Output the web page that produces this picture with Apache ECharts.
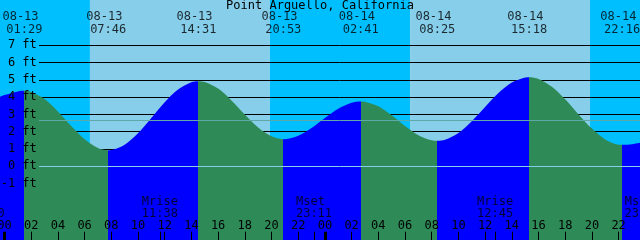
<!DOCTYPE html>
<html><head><meta charset="utf-8">
<script src="https://cdn.jsdelivr.net/npm/echarts@6/dist/echarts.min.js"></script>
<style>html,body{margin:0;padding:0;background:#fff;overflow:hidden}#c{width:640px;height:240px}</style>
</head><body><div id="c"></div>
<script>
// ---------- data (hours counted from 08-13 00:00, heights in ft) ----------
const tideHours = [-0.5, 0, 1, 1.483, 2, 3, 4, 5, 6, 7, 7.767, 8, 9, 10, 11, 12, 13, 14, 14.517,
  15, 16, 17, 18, 19, 20, 20.883, 21, 22, 23, 24, 25, 26, 26.683, 27, 28, 29, 30, 31, 32, 32.417,
  33, 34, 35, 36, 37, 38, 39, 39.3, 40, 41, 42, 43, 44, 45, 46, 46.267, 47, 48];
const tideFeet = [3.96, 4.12, 4.33, 4.36, 4.30, 3.89, 3.17, 2.33, 1.56, 1.06, 0.93, 0.94, 1.25, 1.91, 2.79, 3.70, 4.44, 4.86, 4.92,
  4.87, 4.49, 3.81, 2.99, 2.24, 1.73, 1.57, 1.57, 1.76, 2.21, 2.79, 3.33, 3.68, 3.75, 3.73, 3.47, 2.95, 2.33, 1.80, 1.50, 1.47,
  1.53, 1.93, 2.61, 3.43, 4.23, 4.84, 5.13, 5.15, 5.05, 4.60, 3.87, 3.00, 2.18, 1.55, 1.25, 1.24, 1.28, 1.42];
const extremeHours = [1.483, 7.767, 14.517, 20.883, 26.683, 32.417, 39.3, 46.267];
const extremeDates = ['08-13', '08-13', '08-13', '08-13', '08-14', '08-14', '08-14', '08-14'];
const extremeTimes = ['01:29', '07:46', '14:31', '20:53', '02:41', '08:25', '15:18', '22:16'];
const sunHours = [6.40, 19.88, 30.38, 43.86];          // sunrise, sunset, sunrise, sunset
const moonHours = [-1.333, 11.633, 23.183, 36.75, 47.8];
const moonNames = ['Mset', 'Mrise', 'Mset', 'Mrise', 'Mset'];
const moonTimes = ['22:40', '11:38', '23:11', '12:45', '23:48'];
const hourLabels = [0, 2, 4, 6, 8, 10, 12, 14, 16, 18, 20, 22, 24, 26, 28, 30, 32, 34, 36, 38, 40, 42, 44, 46];
const midnightHours = [0, 24];
const depthLabels = [-1, 0, 1, 2, 3, 4, 5, 6, 7];
const mslFeet = 2.68;
const titleText = 'Point Arguello, California';

// ---------- layout / style ----------
const FONT = '"DejaVu Sans Mono", monospace';
const FS = 12;
const W = 640, H = 240;
const X0 = 4.5, PXH = 13.35, Y0 = 166.3, PXF = 17.3;
const LINE_TOP = 7, LINE_BOTTOM = -1;
const XMIN = -X0 / PXH, XMAX = (W - X0) / PXH;
const YMIN = (Y0 - H) / PXF, YMAX = Y0 / PXF;
const NIGHT = '#00bfff', DAY = '#87ceeb', FLOOD = '#0000ff', EBB = '#2e8b57';
const MSL = '#5fa8a8', DATUM = '#87ceeb';
const rowFt = y => (Y0 - y) / PXF;

const gridMain = { left: 0, right: 0, top: 0, bottom: 0 };
const gridLines = { left: 39, right: 0, top: Y0 - LINE_TOP * PXF, bottom: H - (Y0 - LINE_BOTTOM * PXF) };

const tideData = tideHours.map((h, i) => [h, tideFeet[i]]);

// background bands from sun events
const bandEdges = [XMIN].concat(sunHours, [XMAX]);
const bands = [];
for (let i = 0; i < bandEdges.length - 1; i++) bands.push([bandEdges[i], bandEdges[i + 1], i % 2]);

// flood/ebb pieces by extremes (first extreme is a high => before it rising)
const cuts = [XMIN - 10].concat(extremeHours, [XMAX + 10]);
const pieces = [];
for (let i = 0; i < cuts.length - 1; i++) pieces.push({ gte: cuts[i], lt: cuts[i + 1], color: i % 2 === 0 ? FLOOD : EBB });

const pad2 = n => String(n).padStart(2, '0');
const hourFmt = v => pad2(((Math.round(v) % 24) + 24) % 24);

const thinTicks = hourLabels.filter(h => midnightHours.indexOf(h) < 0).concat(moonHours.filter(h => h > XMIN && h < XMAX));

const textStyle = { fontFamily: FONT, fontSize: FS, color: '#000' };
const noLine = { show: false, onZero: false };

function labelSeries(points, z) {
  return {
    type: 'scatter', xAxisIndex: 0, yAxisIndex: 0, z: z, silent: true, symbolSize: 0, clip: false,
    data: points.map(p => ({ value: [p.h, p.ft], label: { show: true, position: 'inside', formatter: p.text, offset: [p.dx || 0, 0],
      fontFamily: FONT, fontSize: FS, color: '#000' } }))
  };
}

const topPts = [];
extremeHours.forEach((h, i) => {
  topPts.push({ h: h, ft: rowFt(17.3), text: extremeDates[i], dx: -3.8 });
  topPts.push({ h: h, ft: rowFt(29.7), text: extremeTimes[i] });
});
const moonPts = [];
moonHours.forEach((h, i) => {
  moonPts.push({ h: h, ft: rowFt(201.7), text: moonNames[i], dx: moonNames[i] === 'Mset' ? -3.5 : 0 });
  moonPts.push({ h: h, ft: rowFt(213.5), text: moonTimes[i] });
});

const chart = echarts.init(document.getElementById('c'), null, { renderer: 'canvas' });
chart.setOption({
  animation: false,
  backgroundColor: '#fff',
  title: { text: titleText, left: 'center', top: 0, padding: 0, textStyle: Object.assign({ fontWeight: 'normal' }, textStyle) },
  grid: [
    Object.assign({ containLabel: false, outerBoundsMode: 'none' }, gridMain),
    Object.assign({ containLabel: false, outerBoundsMode: 'none' }, gridLines)
  ],
  xAxis: [
    { gridIndex: 0, type: 'value', min: XMIN, max: XMAX, position: 'bottom', z: 10,
      axisLine: noLine, splitLine: { show: false },
      axisTick: { show: true, inside: true, length: 8.3, lineStyle: { color: '#000', width: 1 }, customValues: thinTicks },
      axisLabel: Object.assign({ show: true, inside: true, margin: 8, customValues: hourLabels, formatter: hourFmt, hideOverlap: false,
        showMinLabel: true, showMaxLabel: true }, textStyle) },
    { gridIndex: 1, type: 'value', min: 0, max: 1, show: false, axisLine: noLine },
    { gridIndex: 0, type: 'value', min: XMIN, max: XMAX, position: 'bottom', z: 10,
      axisLine: noLine, splitLine: { show: false }, axisLabel: { show: false },
      axisTick: { show: true, inside: true, length: 8.3, lineStyle: { color: '#000', width: 3 }, customValues: midnightHours } }
  ],
  yAxis: [
    { gridIndex: 0, type: 'value', min: YMIN, max: YMAX, z: 10,
      axisLine: noLine, axisTick: { show: false }, splitLine: { show: false },
      axisLabel: Object.assign({ inside: true, align: 'right', margin: 36.8, customValues: depthLabels,
        formatter: v => v + ' ft' }, textStyle) },
    { gridIndex: 1, type: 'value', min: LINE_BOTTOM, max: LINE_TOP, interval: 1, z: 2,
      axisLine: noLine, axisTick: { show: false }, axisLabel: { show: false },
      splitLine: { show: true, lineStyle: { color: '#000', width: 1 } } }
  ],
  visualMap: [{ type: 'piecewise', show: false, dimension: 0, seriesIndex: 1, pieces: pieces }],
  series: [
    { type: 'custom', xAxisIndex: 0, yAxisIndex: 0, z: 1, silent: true, data: bands,
      renderItem: (params, api) => {
        const p0 = api.coord([api.value(0), YMAX]);
        const p1 = api.coord([api.value(1), YMIN]);
        return { type: 'rect', shape: { x: p0[0], y: p0[1], width: p1[0] - p0[0], height: p1[1] - p0[1] },
          style: { fill: api.value(2) === 1 ? DAY : NIGHT } };
      } },
    { type: 'line', xAxisIndex: 0, yAxisIndex: 0, z: 3, silent: true, data: tideData, smooth: 0.3,
      showSymbol: false, symbol: 'none', lineStyle: { width: 0, opacity: 0 }, areaStyle: { opacity: 1, origin: 'start' } },
    { type: 'line', xAxisIndex: 1, yAxisIndex: 1, z: 4, silent: true, data: [],
      markLine: { silent: true, symbol: 'none', label: { show: false }, animation: false,
        data: [ { yAxis: mslFeet, lineStyle: { color: MSL, width: 1, type: 'solid' } },
                { yAxis: 0, lineStyle: { color: DATUM, width: 1, type: 'solid' } } ] } },
    labelSeries(topPts, 11),
    labelSeries(moonPts, 11)
  ]
});
</script>
</body></html>
